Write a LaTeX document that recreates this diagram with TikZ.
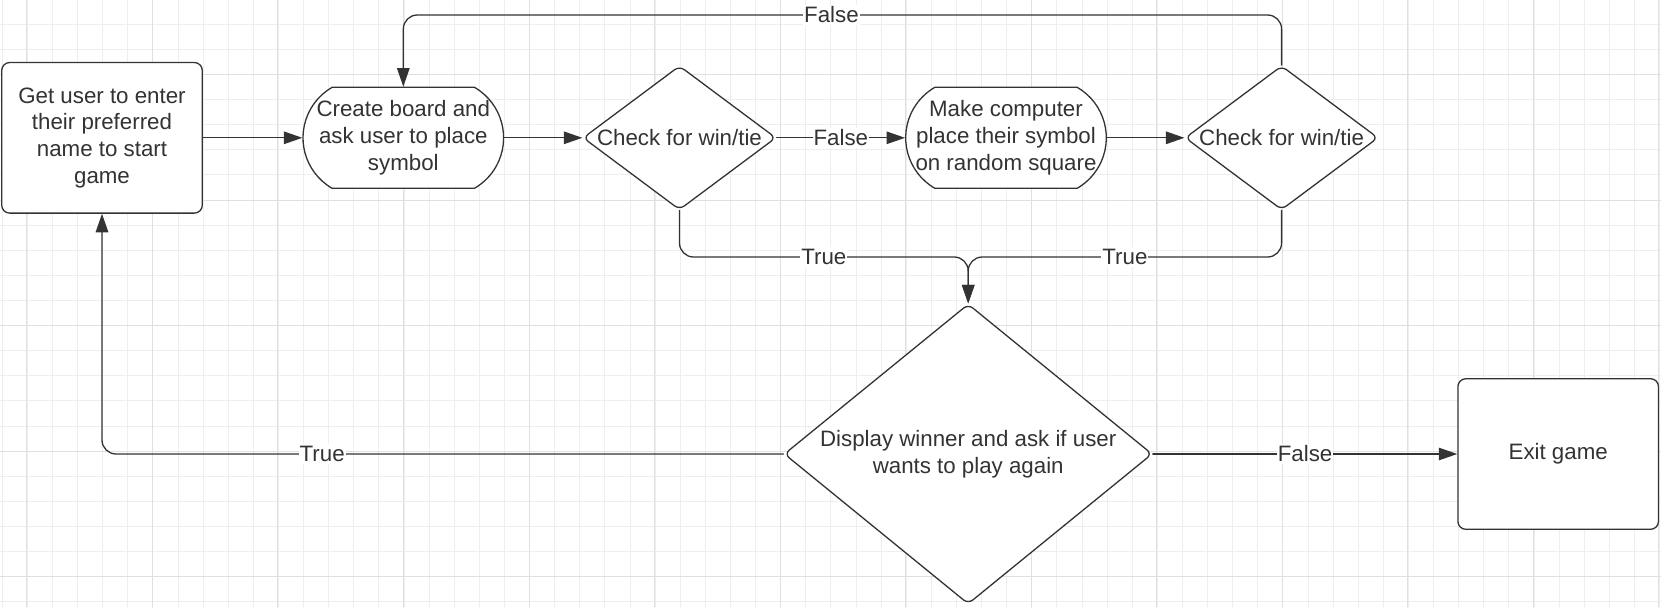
\documentclass[tikz,border=0pt]{standalone}
\usepackage{fontspec}
\setmainfont{Liberation Sans}
\usetikzlibrary{shapes.geometric,shapes.misc,arrows.meta}
\definecolor{inkgray}{HTML}{333333}
\definecolor{gridminor}{HTML}{EEEEEE}
\definecolor{gridmajor}{HTML}{E0E0E0}

\begin{document}
\begin{tikzpicture}[x=0.5pt, y=-0.5pt, line cap=round, line width=0.65pt,
		font=\fontsize{11.15pt}{13.35pt}\selectfont,
		process/.style={rectangle, draw=inkgray, text=inkgray, fill=white, rounded corners=4pt,
			minimum width=100.3pt, minimum height=75.3pt, inner sep=0pt, align=center},
		terminal/.style={rounded rectangle, rounded rectangle arc length=120, draw=inkgray, fill=white,
			minimum width=100.3pt, minimum height=50.5pt, inner sep=0pt,
			label={[text=inkgray, align=center, inner sep=0pt]center:#1}},
		decision/.style={diamond, draw=inkgray, text=inkgray, fill=white, rounded corners=3pt,
			inner sep=0pt, align=center},
		flow/.style={draw=inkgray, rounded corners=7pt, -{Triangle[length=9.25pt, width=6.25pt]}},
		flowlabel/.style={fill=white, text=inkgray, sharp corners, inner xsep=0.5pt, inner ysep=1pt}]
		\useasboundingbox (0,0) rectangle (1661,607);
		\fill[white] (0,0) rectangle (1661,607);
		
		% background grid
		\foreach \i in {0,...,66}
			\draw[gridminor, line width=0.5pt] ({2.3+25.11*\i},0) -- ++(0,607);
		\foreach \j in {0,...,24}
			\draw[gridminor, line width=0.5pt] (0,{-0.8+25.11*\j}) -- ++(1661,0);
		\foreach \i in {0,...,13}
			\draw[gridmajor, line width=0.5pt] ({26.8+125.55*\i},0) -- ++(0,607);
		\foreach \j in {0,...,4}
			\draw[gridmajor, line width=0.5pt] (0,{74.5+125.55*\j}) -- ++(1661,0);
		
		% lanes for the bent connectors
		\coordinate (topLane) at (0,15);
		\coordinate (trueLane) at (0,257);
		
		% steps
		\node[process] (getname) at (102,137.8) {Get user to enter\\their preferred\\name to start\\game};
		\node[terminal={Create board and\\ask user to place\\symbol}] (board) at (403.3,137.8) {};
		\node[decision, shape aspect=1.34, minimum width=96.5pt, minimum height=72pt] (checkA) at (679.5,137.8) {Check for win/tie};
		\node[terminal={Make computer\\place their symbol\\on random square}] (computer) at (1006,137.8) {};
		\node[decision, shape aspect=1.34, minimum width=96.5pt, minimum height=72pt] (checkB) at (1281.6,137.8) {Check for win/tie};
		\node[decision, shape aspect=1.227, minimum width=184pt, minimum height=150pt] (display) at (968.2,454) {Display winner and ask if user\\wants to play again};
		\node[process] (exitgame) at (1558.2,454) {Exit game};
		
		% connectors
		\draw[flow] (getname.east) -- (board.west);
		\draw[flow] (board.east) -- (checkA.west);
		\draw[flow] (checkA.east) -- node[flowlabel] (lblAfalse) {False} (computer.west);
		\draw[flow] (computer.east) -- (checkB.west);
		\draw[flow] (checkB.north) -- (checkB.north |- topLane) -- node[flowlabel, pos=0.5125] (lblBfalse) {False} (board.north |- topLane) -- (board.north);
		\draw[flow] (checkA.south) -- (checkA.south |- trueLane) -- node[flowlabel] (lblAtrue) {True} (display.north |- trueLane) -- (display.north);
		\draw[flow] (checkB.south) -- (checkB.south |- trueLane) -- node[flowlabel] (lblBtrue) {True} (display.north |- trueLane) -- (display.north);
		\draw[flow] (display.west) -- node[flowlabel, pos=0.677] (lblRetrue) {True} (getname.south |- display.west) -- (getname.south);
		\draw[flow] (display.east) -- node[flowlabel] (lblExit) {False} (exitgame.west);
\end{tikzpicture}
\end{document}
